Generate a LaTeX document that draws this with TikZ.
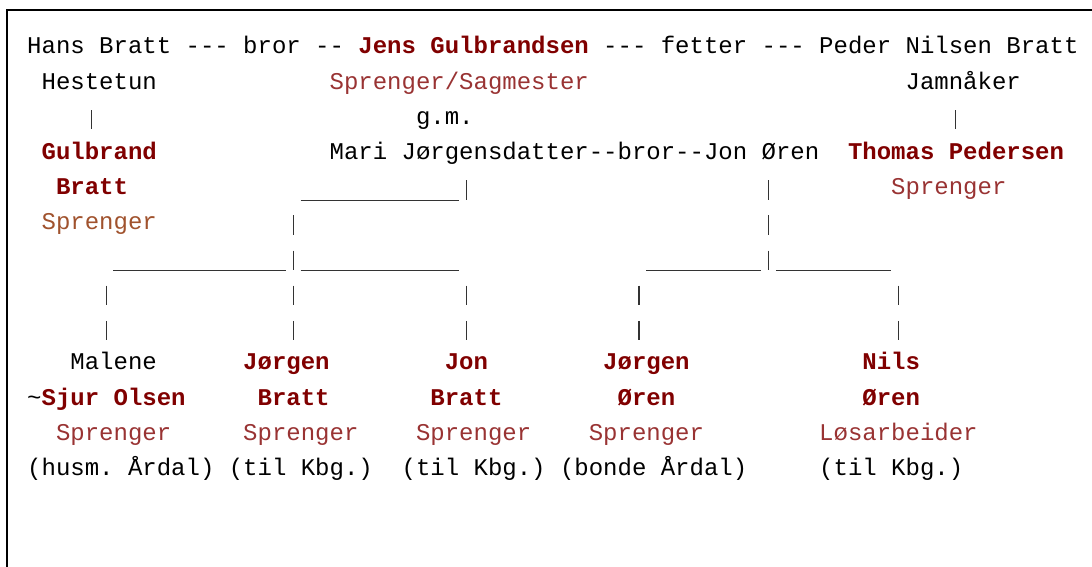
\documentclass[tikz,border=0pt]{standalone}
\usepackage{fontspec}
\setmonofont{Liberation Mono}
\definecolor{namec}{HTML}{800000}
\definecolor{jobc}{HTML}{993333}
\definecolor{jobb}{HTML}{A0522D}
\tikzset{
  txt/.style={anchor=base west, inner sep=0pt, text=black,
    font=\ttfamily\fontsize{24}{28}\selectfont},
  pname/.style={txt, text=namec,
    font=\ttfamily\fontsize{24}{28}\selectfont\bfseries},
  job/.style={txt, text=jobc},
  jobalt/.style={txt, text=jobb},
  conn/.style={draw=black!80, line width=1.1pt},
  frame/.style={draw=black, line width=2pt}
}
\begin{document}
\begin{tikzpicture}
\useasboundingbox (0pt,0pt) rectangle (1092pt,-567pt);
\draw[frame] (7pt,-567pt) -- (7pt,-10pt) -- (1092pt,-10pt);
\begin{scope}[x=14.4pt, y=-35.1pt, shift={(27pt,-18.9pt)}]
% row 1
\node[txt]   (hans)  at (0,1)  {Hans Bratt};
\node[txt]   (rel1)  at (11,1) {-{}-{}- bror -{}-};
\node[pname] (jens)  at (23,1) {Jens Gulbrandsen};
\node[txt]   (rel2)  at (40,1) {-{}-{}- fetter -{}-{}-};
\node[txt]   (peder) at (55,1) {Peder Nilsen Bratt};
% row 2
\node[txt] (hest)    at (1,2)  {Hestetun};
\node[job] (jensjob) at (21,2) {Sprenger/Sagmester};
\node[txt] (jamn)    at (61,2) {Jamnåker};
% row 3
\node[txt] (gm) at (27,3) {g.m.};
% row 4
\node[pname] (gulb)   at (1,4)  {Gulbrand};
\node[txt]   (mari)   at (21,4) {Mari Jørgensdatter};
\node[txt]   (rel3)   at (39,4) {-{}-bror-{}-};
\node[txt]   (jonoren) at (47,4) {Jon Øren};
\node[pname] (thomas) at (57,4) {Thomas Pedersen};
% row 5
\node[pname] (gulb2)     at (2,5)  {Bratt};
\node[job]   (thomasjob) at (60,5) {Sprenger};
% row 6
\node[jobalt] (gulbjob) at (1,6) {Sprenger};
% row 10
\node[txt]   (malene) at (3,10)  {Malene};
\node[pname] (jorg)   at (15,10) {Jørgen};
\node[pname] (jonb)   at (29,10) {Jon};
\node[pname] (jorgo)  at (40,10) {Jørgen};
\node[pname] (nils)   at (58,10) {Nils};
% row 11
\node[txt]   (tilde)  at (0,11)  {\textasciitilde};
\node[pname] (sjur)   at (1,11)  {Sjur Olsen};
\node[pname] (jorg2)  at (16,11) {Bratt};
\node[pname] (jonb2)  at (28,11) {Bratt};
\node[pname] (jorgo2) at (41,11) {Øren};
\node[pname] (nils2)  at (58,11) {Øren};
% row 12
\node[job] (job1) at (2,12)  {Sprenger};
\node[job] (job2) at (15,12) {Sprenger};
\node[job] (job3) at (27,12) {Sprenger};
\node[job] (job4) at (39,12) {Sprenger};
\node[job] (job5) at (55,12) {Løsarbeider};
% row 13
\node[txt] (note1) at (0,13)  {(husm. Årdal)};
\node[txt] (note2) at (14,13) {(til Kbg.)};
\node[txt] (note3) at (26,13) {(til Kbg.)};
\node[txt] (note4) at (37,13) {(bonde Årdal)};
\node[txt] (note5) at (55,13) {(til Kbg.)};
% vertical bars
\foreach \c/\r/\n in {4/3/a, 64/3/b, 30/5/c, 51/5/d, 18/6/e, 51/6/f,
  18/7/g, 51/7/h, 5/8/i, 18/8/j, 30/8/k, 42/8/l, 60/8/m,
  5/9/n, 18/9/o, 30/9/p, 42/9/q, 60/9/r} {
  \coordinate (bar\n top) at (\c+0.5,\r-0.4);
  \coordinate (bar\n bot) at (\c+0.5,\r+0.15);
  \draw[conn] (bar\n top) -- (bar\n bot);
}
% horizontal runs
\foreach \a/\b/\r/\n in {19/30/5/a, 6/18/7/b, 19/30/7/c, 43/51/7/d, 52/60/7/e} {
  \coordinate (hl\n s) at (\a,\r+0.17);
  \coordinate (hl\n e) at (\b,\r+0.17);
  \draw[conn] (hl\n s) -- (hl\n e);
}
\end{scope}
\end{tikzpicture}
\end{document}
